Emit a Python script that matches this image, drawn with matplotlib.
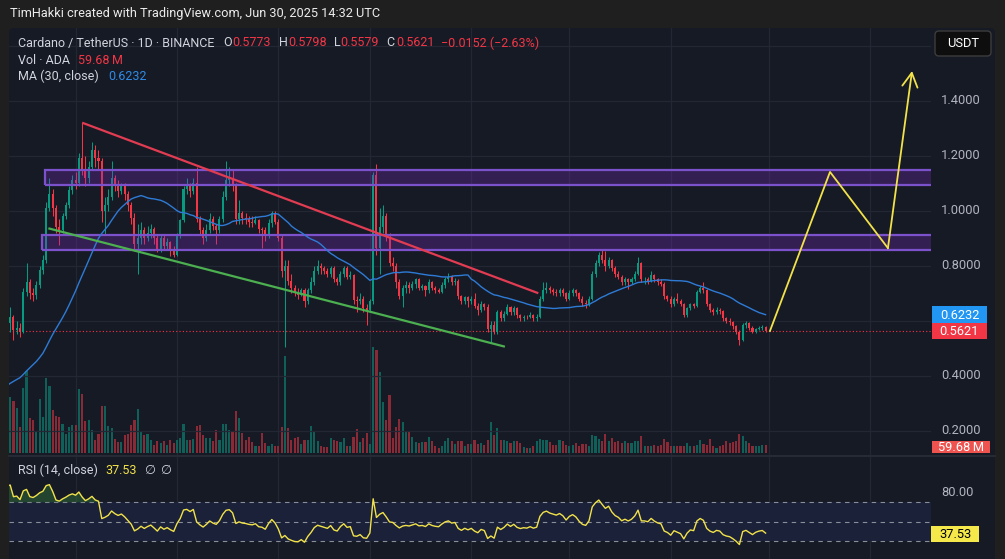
import numpy as np
import pandas as pd
import matplotlib
matplotlib.use("Agg")
import matplotlib.pyplot as plt
from matplotlib.patches import Rectangle, FancyBboxPatch

# ---------------------------------------------------------------- data
header_text = "TimHakki created with TradingView.com, Jun 30, 2025 14:32 UTC"
symbol_title = "Cardano / TetherUS \u00b7 1D \u00b7 BINANCE"
quote_currency = "USDT"
last_open, last_high, last_low, last_close = 0.5773, 0.5798, 0.5579, 0.5621
last_change, last_change_pct = -0.0152, -2.63
ma_label, ma_last = "MA (30, close)", 0.6232
vol_label, vol_last_text = "Vol \u00b7 ADA", "59.68\u202fM"
rsi_label, rsi_last = "RSI (14, close)", 37.53

prior_first_date = "2024-10-11"       # hidden history used by MA(30) / RSI(14)
prior_closes = [0.350, 0.355, 0.350, 0.370, 0.360, 0.360, 0.355, 0.360, 0.360, 0.370,
                0.355, 0.350, 0.340, 0.350, 0.330, 0.340, 0.345, 0.355, 0.360, 0.350,
                0.330, 0.330, 0.325, 0.320, 0.320, 0.340, 0.370, 0.390, 0.410, 0.470]

first_date = "2024-11-10"
closes = [0.590, 0.612, 0.566, 0.575, 0.560, 0.705, 0.740, 0.700, 0.695, 0.730,
          0.785, 0.820, 1.010, 1.060, 1.010, 0.940, 0.930, 0.980, 1.020, 1.075,
          1.110, 1.100, 1.190, 1.150, 1.120, 1.160, 1.220, 1.190, 1.180, 1.000,
          1.020, 1.050, 1.120, 1.090, 1.070, 1.090, 1.060, 1.020, 0.975, 0.880,
          0.900, 0.930, 0.900, 0.920, 0.935, 0.900, 0.860, 0.900, 0.870, 0.885,
          0.860, 0.840, 0.910, 0.965, 1.080, 1.090, 1.070, 1.100, 0.970, 0.930,
          0.900, 0.930, 0.970, 0.945, 0.930, 0.970, 1.050, 1.110, 1.120, 1.090,
          0.970, 0.990, 0.975, 0.970, 0.960, 0.955, 0.965, 0.935, 0.930, 0.910,
          0.955, 0.990, 0.960, 0.900, 0.780, 0.800, 0.745, 0.720, 0.700, 0.695,
          0.710, 0.670, 0.710, 0.740, 0.780, 0.800, 0.790, 0.780, 0.770, 0.790,
          0.750, 0.740, 0.770, 0.790, 0.760, 0.765, 0.675, 0.670, 0.680, 0.645,
          0.640, 0.670, 1.130, 0.865, 0.940, 0.980, 0.905, 0.810, 0.800, 0.740,
          0.690, 0.720, 0.730, 0.720, 0.735, 0.750, 0.720, 0.725, 0.710, 0.740,
          0.720, 0.710, 0.705, 0.730, 0.750, 0.760, 0.740, 0.745, 0.690, 0.670,
          0.685, 0.670, 0.680, 0.655, 0.640, 0.660, 0.650, 0.570, 0.585, 0.560,
          0.633, 0.610, 0.625, 0.650, 0.630, 0.645, 0.620, 0.610, 0.615, 0.612,
          0.620, 0.610, 0.615, 0.680, 0.710, 0.720, 0.710, 0.705, 0.700, 0.710,
          0.700, 0.680, 0.700, 0.710, 0.700, 0.680, 0.665, 0.660, 0.680, 0.770,
          0.810, 0.840, 0.820, 0.800, 0.820, 0.790, 0.770, 0.760, 0.740, 0.750,
          0.740, 0.750, 0.770, 0.810, 0.750, 0.750, 0.745, 0.765, 0.750, 0.740,
          0.735, 0.690, 0.680, 0.660, 0.680, 0.670, 0.660, 0.620, 0.645, 0.660,
          0.655, 0.705, 0.720, 0.710, 0.660, 0.640, 0.630, 0.640, 0.635, 0.610,
          0.600, 0.595, 0.580, 0.560, 0.530, 0.584, 0.590, 0.575, 0.560, 0.570,
          0.575, 0.5773, 0.5621]
highs = [0.600, 0.650, 0.620, 0.600, 0.590, 0.720, 0.810, 0.750, 0.720, 0.745,
         0.800, 0.840, 1.030, 1.120, 1.080, 1.020, 0.970, 0.990, 1.030, 1.090,
         1.130, 1.140, 1.210, 1.320, 1.200, 1.180, 1.250, 1.240, 1.220, 1.190,
         1.050, 1.080, 1.180, 1.130, 1.110, 1.100, 1.100, 1.070, 1.030, 0.990,
         0.950, 0.960, 0.940, 0.945, 0.950, 0.940, 0.910, 0.910, 0.910, 0.900,
         0.890, 0.870, 0.920, 0.970, 1.090, 1.120, 1.100, 1.120, 1.160, 0.980,
         0.940, 0.950, 0.990, 0.980, 0.950, 0.980, 1.070, 1.180, 1.160, 1.150,
         1.100, 1.040, 1.000, 0.990, 0.980, 0.980, 0.980, 0.970, 0.940, 0.940,
         0.970, 1.000, 1.000, 0.970, 0.910, 0.820, 0.820, 0.770, 0.730, 0.720,
         0.720, 0.720, 0.720, 0.760, 0.800, 0.820, 0.810, 0.800, 0.790, 0.800,
         0.800, 0.760, 0.780, 0.800, 0.800, 0.780, 0.770, 0.690, 0.700, 0.690,
         0.660, 0.680, 1.140, 1.170, 1.010, 1.020, 0.990, 0.920, 0.830, 0.810,
         0.750, 0.730, 0.745, 0.740, 0.745, 0.755, 0.755, 0.735, 0.730, 0.750,
         0.745, 0.725, 0.720, 0.740, 0.760, 0.775, 0.765, 0.755, 0.750, 0.695,
         0.690, 0.690, 0.690, 0.700, 0.665, 0.670, 0.665, 0.660, 0.600, 0.600,
         0.640, 0.640, 0.635, 0.660, 0.655, 0.655, 0.650, 0.625, 0.620, 0.620,
         0.630, 0.625, 0.625, 0.690, 0.740, 0.740, 0.725, 0.720, 0.715, 0.720,
         0.720, 0.705, 0.710, 0.720, 0.715, 0.705, 0.690, 0.675, 0.690, 0.780,
         0.820, 0.850, 0.860, 0.855, 0.830, 0.825, 0.800, 0.780, 0.765, 0.760,
         0.755, 0.760, 0.780, 0.830, 0.815, 0.760, 0.760, 0.780, 0.770, 0.755,
         0.750, 0.740, 0.695, 0.690, 0.685, 0.700, 0.680, 0.665, 0.650, 0.665,
         0.665, 0.710, 0.725, 0.740, 0.715, 0.665, 0.645, 0.650, 0.645, 0.640,
         0.615, 0.610, 0.600, 0.585, 0.565, 0.590, 0.600, 0.595, 0.580, 0.575,
         0.580, 0.585, 0.5798]
lows = [0.460, 0.560, 0.530, 0.550, 0.540, 0.555, 0.690, 0.680, 0.670, 0.680,
        0.720, 0.770, 0.810, 1.000, 0.980, 0.920, 0.875, 0.920, 0.970, 1.010,
        1.060, 1.080, 1.090, 1.130, 1.090, 1.100, 1.150, 1.160, 1.150, 0.960,
        0.910, 1.000, 1.040, 1.070, 1.050, 1.060, 1.040, 1.000, 0.950, 0.860,
        0.770, 0.880, 0.880, 0.890, 0.900, 0.880, 0.850, 0.850, 0.860, 0.860,
        0.835, 0.830, 0.835, 0.900, 0.960, 1.060, 1.050, 1.060, 0.960, 0.910,
        0.880, 0.890, 0.920, 0.930, 0.880, 0.920, 0.960, 1.040, 1.090, 1.070,
        0.950, 0.950, 0.950, 0.950, 0.940, 0.940, 0.950, 0.920, 0.865, 0.890,
        0.900, 0.940, 0.950, 0.890, 0.760, 0.505, 0.730, 0.700, 0.690, 0.680,
        0.690, 0.650, 0.660, 0.700, 0.730, 0.770, 0.770, 0.770, 0.760, 0.760,
        0.740, 0.730, 0.730, 0.760, 0.750, 0.750, 0.660, 0.630, 0.660, 0.630,
        0.585, 0.630, 0.660, 0.840, 0.770, 0.920, 0.890, 0.800, 0.780, 0.720,
        0.680, 0.650, 0.700, 0.700, 0.710, 0.720, 0.710, 0.710, 0.690, 0.700,
        0.710, 0.700, 0.700, 0.700, 0.720, 0.740, 0.730, 0.730, 0.680, 0.660,
        0.660, 0.650, 0.660, 0.645, 0.620, 0.630, 0.640, 0.560, 0.520, 0.550,
        0.550, 0.600, 0.600, 0.620, 0.620, 0.620, 0.610, 0.600, 0.600, 0.605,
        0.610, 0.600, 0.600, 0.610, 0.670, 0.700, 0.700, 0.695, 0.690, 0.690,
        0.690, 0.670, 0.675, 0.690, 0.690, 0.670, 0.655, 0.645, 0.655, 0.675,
        0.760, 0.800, 0.810, 0.780, 0.790, 0.780, 0.760, 0.750, 0.730, 0.730,
        0.715, 0.735, 0.745, 0.765, 0.740, 0.735, 0.735, 0.740, 0.740, 0.730,
        0.725, 0.680, 0.670, 0.650, 0.655, 0.665, 0.655, 0.615, 0.615, 0.640,
        0.645, 0.650, 0.700, 0.700, 0.655, 0.630, 0.620, 0.625, 0.625, 0.600,
        0.590, 0.585, 0.570, 0.550, 0.512, 0.525, 0.575, 0.565, 0.555, 0.555,
        0.565, 0.565, 0.5579]
volumes_m = [450, 420,
             390, 338, 195, 488, 615, 263, 248, 165, 405, 270,
             563, 503, 323, 278, 270, 218, 143, 195, 210, 210,
             480, 443, 240, 248, 173, 98, 143, 353, 353, 203,
             188, 105, 83, 83, 135, 143, 210, 248, 330, 165,
             135, 143, 98, 60, 90, 75, 90, 60, 98, 75,
             98, 113, 218, 98, 98, 105, 203, 210, 135, 113,
             113, 90, 173, 98, 218, 218, 173, 158, 315, 263,
             150, 98, 120, 83, 53, 53, 150, 75, 53, 68,
             53, 53, 195, 728, 188, 98, 113, 120, 68, 98,
             98, 203, 165, 90, 53, 45, 45, 113, 98, 90,
             83, 113, 53, 53, 120, 180, 83, 113, 150, 68,
             795, 773, 608, 383, 248, 435, 113, 195, 255, 233,
             158, 158, 120, 83, 75, 83, 83, 120, 90, 53,
             38, 53, 90, 113, 90, 68, 90, 90, 53, 68,
             68, 98, 68, 75, 60, 98, 233, 135, 188, 98,
             98, 90, 75, 90, 90, 75, 45, 38, 38, 53,
             90, 105, 98, 98, 83, 60, 60, 98, 90, 60,
             53, 60, 75, 53, 68, 68, 53, 135, 128, 105,
             90, 143, 90, 113, 83, 90, 75, 90, 75, 75,
             90, 90, 128, 53, 53, 53, 60, 53, 60, 105,
             83, 53, 53, 53, 53, 53, 75, 53, 53, 60,
             98, 68, 60, 105, 53, 38, 53, 60, 90, 75,
             83, 90, 143, 128, 90, 75, 53, 53, 53, 60,
             59.68]

price_ticks = [1.4, 1.2, 1.0, 0.8, 0.4, 0.2]
price_grid = [1.6, 1.4, 1.2, 1.0, 0.8, 0.6, 0.4, 0.2]
month_lines = ["2024-12-01", "2025-01-01", "2025-02-01", "2025-03-01", "2025-04-01",
               "2025-05-01", "2025-06-01", "2025-07-01", "2025-08-01"]
rsi_levels = [70, 50, 30]
rsi_scale_label = 80

# drawings
upper_zone = ("2024-11-21 15:00", 1.093, 1.148)
lower_zone = ("2024-11-20 17:00", 0.857, 0.913)
red_line_dates, red_line_prices = ["2024-12-03 00:00", "2025-04-21 12:00"], [1.320, 0.700]
green_line_dates, green_line_prices = ["2024-11-22 16:00", "2025-04-11 07:00"], [0.936, 0.5055]
path_dates = ["2025-07-01 08:00", "2025-07-19 17:00", "2025-08-06 10:00", "2025-08-13 19:00"]
path_prices = [0.5625, 1.141, 0.864, 1.508]

assert len(closes) == len(highs) == len(lows) == len(volumes_m) == 233

# ---------------------------------------------------------------- derived
ORIGIN = pd.Timestamp("2024-11-01")
def dnum(s):
    return (pd.to_datetime(s) - ORIGIN) / pd.Timedelta(days=1)

x = dnum(pd.date_range(first_date, periods=len(closes), freq="D")).values
all_close = np.array(prior_closes + closes)
c = np.array(closes); h = np.array(highs); l = np.array(lows)
o = np.concatenate([[prior_closes[-1]], c[:-1]])
o[-1] = last_open
ma = pd.Series(all_close).rolling(30).mean().values[len(prior_closes):]

delta = np.diff(all_close)
gain = np.clip(delta, 0, None); loss = np.clip(-delta, 0, None)
rsi_all = np.full(len(all_close), np.nan)
ag, al = gain[:14].mean(), loss[:14].mean()
rsi_all[14] = 100 - 100 / (1 + ag / al)
for i in range(14, len(delta)):
    ag = (ag * 13 + gain[i]) / 14
    al = (al * 13 + loss[i]) / 14
    rsi_all[i + 1] = 100 - 100 / (1 + ag / al) if al > 0 else 100
rsi = rsi_all[len(prior_closes):]

# ---------------------------------------------------------------- style
plt.rcParams["font.family"] = ["Roboto", "DejaVu Sans"]
UP, DOWN = "#089981", "#f23645"
BG, FRAME, GRID = "#161a25", "#1f1f1f", "#232734"
TXT, AXT = "#d1d4dc", "#b2b5be"
YEL = "#f2e24a"

W, H = 1005, 559
fig = plt.figure(figsize=(W / 100, H / 100), dpi=100)
fig.patch.set_facecolor(FRAME)

def frect(x0, y0, x1, y1):
    return [x0 / W, 1 - y1 / H, (x1 - x0) / W, (y1 - y0) / H]

PL, PR, PT, PB = 9, 931, 28, 455          # main pane (pixels)
RT, RB = 457, 559                          # RSI pane

bg = fig.add_axes([0, 0, 1, 1], zorder=-5)
bg.set_xlim(0, W); bg.set_ylim(H, 0); bg.axis("off")
bg.add_patch(FancyBboxPatch((PL, PT), 995 - PL, H - PT + 10,
                            boxstyle="round,pad=0,rounding_size=5", fc=BG, ec="none"))
bg.plot([PL, 995], [456, 456], color="#2a2e39", lw=1.2)

XL = ((PL + 22.5) / 3.27, (PR + 22.5) / 3.27)

ax_v = fig.add_axes(frect(PL, PT, PR, PB), zorder=0)
ax = fig.add_axes(frect(PL, PT, PR, PB), zorder=1)
ax_r = fig.add_axes(frect(PL, RT, PR, RB), zorder=1)
for a in (ax_v, ax, ax_r):
    a.set_facecolor("none")
    a.set_xlim(*XL)
    a.set_xticks([]); a.set_yticks([])
    for s in a.spines.values():
        s.set_visible(False)
ax.set_ylim(0.11164, 1.6644)
ax_v.set_ylim(-15, 3187.5)
ax_r.set_ylim(11.55, 116.7)

# grids
for m in dnum(month_lines):
    ax_v.axvline(m, color=GRID, lw=0.9, zorder=0)
    ax_r.axvline(m, color=GRID, lw=0.9, zorder=0)
for p in price_grid:
    ax.axhline(p, color=GRID, lw=0.9, zorder=0)

# volume
vcols = np.where(c >= o, "#10605a", "#8a2a37")
ax_v.bar(x, volumes_m, width=0.65, color=vcols, lw=0, zorder=2)

# candles
ccols = np.where(c >= o, UP, DOWN)
ax.vlines(x, l, h, colors=ccols, lw=0.75, zorder=3)
ax.bar(x, np.maximum(np.abs(c - o), 0.003), bottom=np.minimum(o, c), width=0.62,
       color=ccols, lw=0, zorder=4)

# price line
ax.axhline(last_close, color=DOWN, lw=0.8, ls=(0, (1, 2)), zorder=2)

# MA
ax.plot(x, ma, color="#2e7bd6", lw=1.0, zorder=6)

# zones
for z in (upper_zone, lower_zone):
    x0 = dnum(z[0])
    ax.add_patch(Rectangle((x0, z[1]), 400, z[2] - z[1], fc="#7b2cbf", alpha=0.3,
                           ec="none", zorder=5))
    ax.add_patch(Rectangle((x0, z[1]), 400, z[2] - z[1], fc="none",
                           ec="#7c52cc", lw=1.6, zorder=5))

# trend lines
ax.plot(dnum(red_line_dates), red_line_prices, color="#e23c52", lw=1.6, zorder=7,
        solid_capstyle="butt")
ax.plot(dnum(green_line_dates), green_line_prices, color="#4caf50", lw=1.6, zorder=7,
        solid_capstyle="butt")

# projection path
pd_x = list(dnum(path_dates))
ax.plot(pd_x[:-1], path_prices[:-1], color=YEL, lw=1.3, zorder=8)
ax.annotate("", xy=(pd_x[-1], path_prices[-1]), xytext=(pd_x[-2], path_prices[-2]),
            arrowprops=dict(arrowstyle="->,head_length=1.0,head_width=0.55", color=YEL,
                            lw=1.3, shrinkA=0, shrinkB=0), zorder=8, annotation_clip=False)

# RSI pane
ax_r.axhspan(30, 70, color="#1a2139", lw=0, zorder=0.5)
for lv in rsi_levels:
    ax_r.axhline(lv, color="#8a8e99", lw=0.8, ls=(0, (4, 4)), zorder=1)
ax_r.fill_between(x, 70, rsi, where=rsi >= 70, interpolate=True, color="#2f6a3a",
                  alpha=0.55, lw=0, zorder=1.5)
ax_r.plot(x, rsi, color=YEL, lw=1.0, zorder=3)

# ---------------------------------------------------------------- overlay text
ov = fig.add_axes([0, 0, 1, 1], zorder=10)
ov.set_xlim(0, W); ov.set_ylim(H, 0); ov.axis("off")
renderer = fig.canvas.get_renderer()

def ypx(axis, v):
    return H - axis.transData.transform((XL[0], v))[1]

def fit_size(s, width, base=9.0):
    t = ov.text(0, 0, s, fontsize=base)
    w = t.get_window_extent(renderer).width
    t.remove()
    return base * width / w

hs = fit_size(header_text, 371)
ov.text(10, 14, header_text, color="#ececec", fontsize=hs, va="center")

ls = fit_size(symbol_title, 197)
ss = fit_size("1.4000", 40)
red_txt = "#f23645"
f4 = lambda v: f"{v:.4f}"
row1 = [(18.4, symbol_title, TXT), (223, "O", TXT), (232.7, f4(last_open), red_txt),
        (278.6, "H", TXT), (287.8, f4(last_high), red_txt), (334, "L", TXT),
        (340.6, f4(last_low), red_txt), (386.5, "C", TXT), (396, f4(last_close), red_txt),
        (441.3, f"\u2212{abs(last_change):.4f} (\u2212{abs(last_change_pct):.2f}%)", red_txt)]
for xx, s, col in row1:
    ov.text(xx, 43, s, color=col, fontsize=ls, va="center")
ov.text(18.4, 60, vol_label, color=TXT, fontsize=ls, va="center")
ov.text(77.7, 60, vol_last_text, color=red_txt, fontsize=ls, va="center")
ov.text(18.4, 76.5, ma_label, color=TXT, fontsize=ls, va="center")
ov.text(107.9, 76.5, f4(ma_last), color="#2f8be6", fontsize=ls, va="center")

ov.text(18, 470, rsi_label, color=TXT, fontsize=ls, va="center")
ov.text(105.8, 470, f"{rsi_last:.2f}", color=YEL, fontsize=ls, va="center")
ov.text(144, 470, "\u2205", color=TXT, fontsize=ls, va="center", family=["DejaVu Sans"])
ov.text(160, 470, "\u2205", color=TXT, fontsize=ls, va="center", family=["DejaVu Sans"])

# price scale
for p in price_ticks:
    ov.text(941, ypx(ax, p), f"{p:.4f}", color=AXT, fontsize=ss, va="center")
ov.text(941, ypx(ax_r, rsi_scale_label), f"{rsi_scale_label:.2f}", color=AXT,
        fontsize=ss, va="center")

def tag(y0, y1, s, fc, tc, x0=932, x1=987):
    ov.add_patch(Rectangle((x0, y0), x1 - x0, y1 - y0, fc=fc, ec="none", zorder=3))
    ov.text((x0 + x1) / 2, (y0 + y1) / 2 + 0.5, s, color=tc, fontsize=ss, ha="center",
            va="center", zorder=4)

ym = ypx(ax, ma_last); yc = ypx(ax, last_close)
tag(ym - 8, yc - 8, f4(ma_last), "#2196f3", "white")
tag(yc - 8, yc + 8, f4(last_close), "#f23645", "white")
tag(441, 453, vol_last_text, "#ef5350", "white", 932, 990)
yr = ypx(ax_r, rsi_last)
tag(yr - 8, yr + 8, f"{rsi_last:.2f}", "#f5e84a", "black", 931, 979)

ov.add_patch(FancyBboxPatch((935, 31), 56, 25, boxstyle="round,pad=0,rounding_size=4",
                            fc="#0e0e0e", ec="#3c3c3c", lw=1))
ov.text(963, 43.5, quote_currency, color="white", fontsize=ss, ha="center", va="center")

fig.savefig("out.png", dpi=100, facecolor=fig.get_facecolor())
